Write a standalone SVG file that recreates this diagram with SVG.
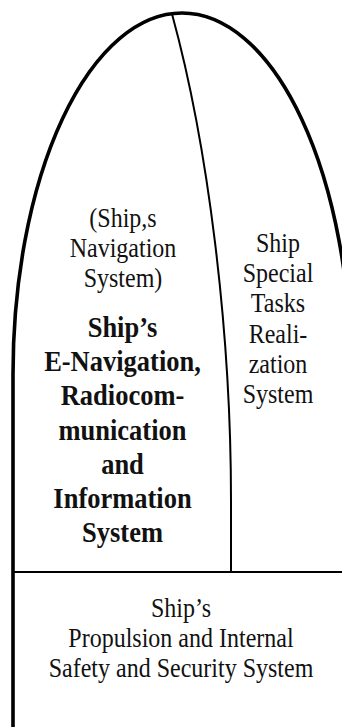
<svg xmlns="http://www.w3.org/2000/svg" width="342" height="727" viewBox="0 0 342 727">
<style>
.t{font-family:"Liberation Serif","Times New Roman",serif;font-size:24px;fill:#111;text-anchor:middle}
.b{font-family:"Liberation Serif","Times New Roman",serif;font-size:26.5px;font-weight:bold;fill:#111;text-anchor:middle}
.outer{fill:none;stroke:#000;stroke-width:3.6}
.div{fill:none;stroke:#000;stroke-width:2}
</style>
<rect width="342" height="727" fill="#fff"/>
<g id="outline">
<path class="outer" d="M13,727 L13,374 A169,361 0 0 1 351,374"/>
<path class="div" d="M172,14 C208,145 231,330 231,500 L231,572"/>
<path class="div" d="M13,572 L342,572"/>
</g>
<g id="navigation-system">
<text class="t" transform="translate(123,227) scale(1,1.15)">(Ship,s</text>
<text class="t" transform="translate(123,257) scale(1,1.15)">Navigation</text>
<text class="t" transform="translate(123,287) scale(1,1.15)">System)</text>
<text class="b" transform="translate(122.5,337) scale(1,1.15)">Ship’s</text>
<text class="b" transform="translate(122.5,371) scale(1,1.15)">E-Navigation,</text>
<text class="b" transform="translate(122.5,405) scale(1,1.15)">Radiocom-</text>
<text class="b" transform="translate(122.5,440) scale(1,1.15)">munication</text>
<text class="b" transform="translate(122.5,474) scale(1,1.15)">and</text>
<text class="b" transform="translate(122.5,508) scale(1,1.15)">Information</text>
<text class="b" transform="translate(122.5,542) scale(1,1.15)">System</text>
</g>
<g id="special-tasks">
<text class="t" transform="translate(278,252) scale(1,1.15)">Ship</text>
<text class="t" transform="translate(278,282) scale(1,1.15)">Special</text>
<text class="t" transform="translate(278,312) scale(1,1.15)">Tasks</text>
<text class="t" transform="translate(278,343) scale(1,1.15)">Reali-</text>
<text class="t" transform="translate(278,373) scale(1,1.15)">zation</text>
<text class="t" transform="translate(278,403) scale(1,1.15)">System</text>
</g>
<g id="propulsion">
<text class="t" transform="translate(181,617) scale(1,1.15)">Ship’s</text>
<text class="t" transform="translate(181,647) scale(1,1.15)">Propulsion and Internal</text>
<text class="t" transform="translate(181,677) scale(1,1.15)">Safety and Security System</text>
</g>
</svg>
